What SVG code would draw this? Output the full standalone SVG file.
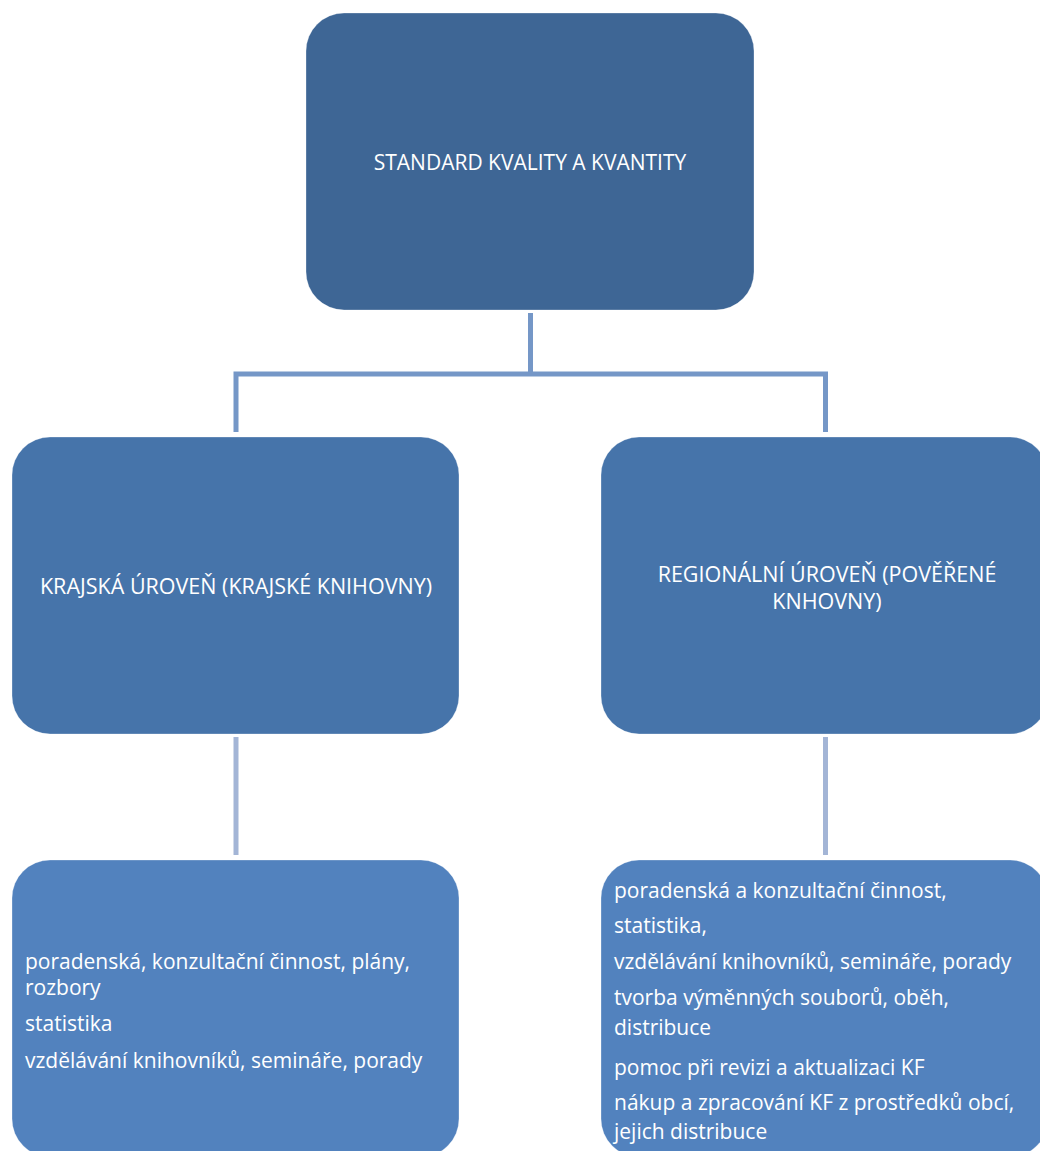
<svg xmlns="http://www.w3.org/2000/svg" width="1040" height="1151" viewBox="0 0 1040 1151">
<style>
text{font-family:"Open Sans","Liberation Sans",sans-serif;fill:#ffffff}
.t{font-size:21px}
.m{font-size:21.5px}
.b{font-size:21px}
.box{stroke:#ffffff;stroke-opacity:0.3;stroke-width:1}
.c1{stroke:#7597C7;stroke-width:5;fill:none}
.c2{stroke:#A3B5D6;stroke-width:5;fill:none}
</style>
<rect width="1040" height="1151" fill="#ffffff"/>
<g id="connectors">
<path class="c1" d="M530.5,313 V374 M236,432 V374 H825.5 V432"/>
<path class="c2" d="M236,737 V855 M825.5,737 V855"/>
</g>
<g id="n-top">
<rect class="box" x="306" y="13" width="448" height="297" rx="38" fill="#3E6695"/>
<text class="t" x="530" y="170" text-anchor="middle">STANDARD KVALITY A KVANTITY</text>
</g>
<g id="n-kraj">
<rect class="box" x="12" y="437" width="447" height="297" rx="38" fill="#4674AA"/>
<text class="m" x="236" y="594" text-anchor="middle">KRAJSKÁ ÚROVEŇ (KRAJSKÉ KNIHOVNY)</text>
</g>
<g id="n-reg">
<rect class="box" x="601" y="437" width="447" height="297" rx="38" fill="#4674AA"/>
<text class="m" x="827" y="582" text-anchor="middle">REGIONÁLNÍ ÚROVEŇ (POVĚŘENÉ</text>
<text class="m" x="827" y="609" text-anchor="middle">KNHOVNY)</text>
</g>
<g id="n-kraj-list">
<rect class="box" x="12" y="860" width="447" height="297" rx="38" fill="#5282BE"/>
<text class="b" x="25" y="969">poradenská, konzultační činnost, plány,</text>
<text class="b" x="25" y="995">rozbory</text>
<text class="b" x="25" y="1031">statistika</text>
<text class="b" x="25" y="1068">vzdělávání knihovníků, semináře, porady</text>
</g>
<g id="n-reg-list">
<rect class="box" x="601" y="860" width="447" height="297" rx="38" fill="#5282BE"/>
<text class="b" x="614" y="898">poradenská a konzultační činnost,</text>
<text class="b" x="614" y="933">statistika,</text>
<text class="b" x="614" y="969">vzdělávání knihovníků, semináře, porady</text>
<text class="b" x="614" y="1005">tvorba výměnných souborů, oběh,</text>
<text class="b" x="614" y="1035">distribuce</text>
<text class="b" x="614" y="1075">pomoc při revizi a aktualizaci KF</text>
<text class="b" x="614" y="1110">nákup a zpracování KF z prostředků obcí,</text>
<text class="b" x="614" y="1139">jejich distribuce</text>
</g>
</svg>
